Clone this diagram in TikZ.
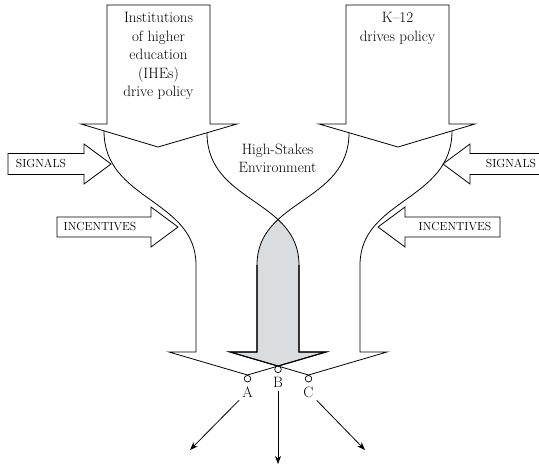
\documentclass[tikz,border=0pt]{standalone}
\usetikzlibrary{arrows.meta}
\definecolor{hsgray}{RGB}{219,220,222}
\begin{document}
\begin{tikzpicture}[x=1pt,y=-1pt, line join=miter,
  outl/.style={draw=black, line width=0.8pt},
  grayo/.style={draw=black, line width=1.1pt},
  txt/.style={font=\fontsize{15}{18.5}\selectfont, inner sep=0pt, anchor=base},
  caps/.style={font=\fontsize{11.7}{14}\selectfont, inner sep=0pt, anchor=base},
  abc/.style={font=\fontsize{15}{18}\selectfont, inner sep=3pt, anchor=base},
  tipc/.style={circle, draw, fill=white, line width=0.7pt, minimum size=6.6pt, inner sep=0pt},
  outarr/.style={-{Stealth[length=8pt,width=6pt,inset=2.5pt]}, line width=0.8pt}]
\useasboundingbox (0,0) rectangle (539,468);

% gray overlap of the two bodies
\begin{scope}
\clip (104,131) .. controls (104,201) and (196,199) .. (196,265) -- (196,352) -- (169,352) -- (247.5,375) -- (326,352) -- (299,352) -- (299,265) .. controls (299,199) and (207,203) .. (207,133) -- cycle;
\fill[hsgray] (452,131) .. controls (452,201) and (360,199) .. (360,265) -- (360,352) -- (387,352) -- (308.5,375) -- (230,352) -- (257,352) -- (257,265) .. controls (257,199) and (349,203) .. (349,133) -- cycle;
\end{scope}

% top arrows
\draw[outl] (107,5) -- (210,5) -- (210,124) -- (237,124) -- (158,147) -- (81,124) -- (107,124) -- cycle;
\draw[outl] (346,5) -- (449,5) -- (449,124) -- (475,124) -- (398,147) -- (319,124) -- (346,124) -- cycle;

% bodies
\draw[outl] (104,131) .. controls (104,201) and (196,199) .. (196,265) -- (196,352) -- (169,352) -- (247.5,375) -- (326,352) -- (299,352) -- (299,265) .. controls (299,199) and (207,203) .. (207,133);
\draw[outl] (452,131) .. controls (452,201) and (360,199) .. (360,265) -- (360,352) -- (387,352) -- (308.5,375) -- (230,352) -- (257,352) -- (257,265) .. controls (257,199) and (349,203) .. (349,133);

% gray arrow edges
\draw[grayo] (257,265) -- (257,352) -- (230,352) -- (278,366.06) -- (326,352) -- (299,352) -- (299,265);

% side arrows
\draw[outl, fill=white] (8,153.5) -- (84,153.5) -- (84,144) -- (111,164) -- (84,184) -- (84,174.5) -- (8,174.5) -- cycle;
\draw[outl, fill=white] (549,153.5) -- (470,153.5) -- (470,144) -- (443,164) -- (470,184) -- (470,174.5) -- (549,174.5) -- cycle;
\draw[outl, fill=white] (57,217) -- (151,217) -- (151,207) -- (178,227) -- (151,247) -- (151,237) -- (57,237) -- cycle;
\draw[outl, fill=white] (500,217) -- (405,217) -- (405,207) -- (378,227) -- (405,247) -- (405,237) -- (500,237) -- cycle;

\node[caps] (sigL) at (41,167.5) {SIGNALS};
\node[caps] (sigR) at (511,167.5) {SIGNALS};
\node[caps] (incL) at (100,231) {INCENTIVES};
\node[caps] (incR) at (455,231) {INCENTIVES};

% texts
\node[txt] (ihe1) at (158.5,23) {Institutions};
\node[txt] (ihe2) at (158.5,41.5) {of higher};
\node[txt] (ihe3) at (158.5,60) {education};
\node[txt] (ihe4) at (158.5,78.5) {(IHEs)};
\node[txt] (ihe5) at (158.5,97) {drive policy};
\node[txt] (k1) at (397.5,22.7) {K--12};
\node[txt] (k2) at (397.5,41.5) {drives policy};
\node[txt] (hs1) at (277.5,154.3) {High-Stakes};
\node[txt] (hs2) at (277.5,173) {Environment};

% tips and outcomes
\node[tipc] (cA) at (247.5,378.7) {};
\node[tipc] (cB) at (278,369.4) {};
\node[tipc] (cC) at (308.5,378.7) {};
\node[abc] (lA) at (247.5,397) {A};
\node[abc] (lB) at (278,387.5) {B};
\node[abc] (lC) at (308.5,397) {C};
\coordinate (eA) at (190,450);
\coordinate (eB) at (278,464);
\coordinate (eC) at (365,450);
\draw[outarr] (lA) -- (eA);
\draw[outarr] (lB) -- (eB);
\draw[outarr] (lC) -- (eC);
\end{tikzpicture}
\end{document}
